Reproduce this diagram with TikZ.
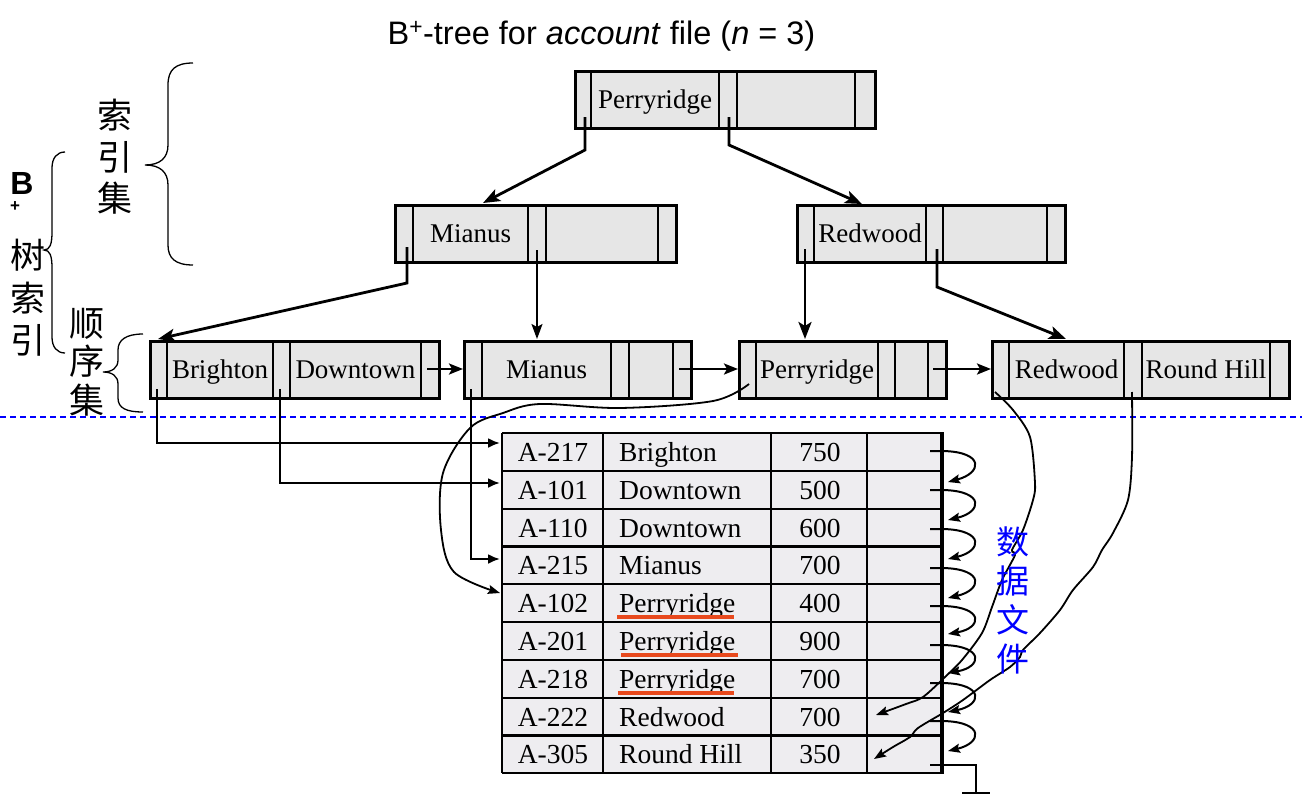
\documentclass[tikz,border=0pt]{standalone}
\usepackage{fontspec}
\setmainfont{Liberation Serif}
\newfontfamily\sansf{Liberation Sans}
\newfontfamily\cjk{Noto Sans CJK SC}
\usetikzlibrary{arrows.meta}
\definecolor{boxgray}{RGB}{230,230,230}
\definecolor{tblfill}{RGB}{238,237,240}
\definecolor{ulred}{RGB}{232,73,29}
\begin{document}
\begin{tikzpicture}[x=1pt,y=-1pt,
  tbox/.style={draw, line width=3pt, fill=boxgray, inner sep=0pt, anchor=north west, minimum height=57pt},
  divl/.style={line width=2.8pt},
  key/.style={font=\fontsize{27}{30}\selectfont, inner sep=0pt, anchor=base},
  cell/.style={font=\fontsize{27.5}{30}\selectfont, inner sep=0pt, anchor=base},
  tarrow/.style={line width=2.8pt, -{Stealth[length=17pt,width=13pt,inset=4pt]}},
  tarrowthin/.style={line width=1.8pt, -{Stealth[length=15pt,width=11pt,inset=3pt]}},
  larrow/.style={line width=2.4pt, -{Stealth[length=14pt,width=11pt,inset=3pt]}},
  parrow/.style={line width=2.2pt, -{Latex[length=12pt,width=10pt]}},
  curl/.style={line width=2pt, -{Stealth[length=12pt,width=9pt,inset=2pt]}},
  wig/.style={line width=1.8pt, -{Stealth[length=12pt,width=9pt,inset=2pt]}},
  brace/.style={line width=1.3pt},
  cjkl/.style={font=\cjk\fontsize{35}{41.5}\selectfont, inner sep=0pt, align=center},
  tline/.style={line width=2.2pt}
]
\useasboundingbox (0,0) rectangle (1302,798);
\fill[white] (0,0) rectangle (1302,798);

% title
\node[font=\sansf\fontsize{32.5}{36}\selectfont, inner sep=0pt, anchor=base] (title) at (601.5,44)
  {B\textsuperscript{+}-tree for \textit{account} file (\textit{n} = 3)};

% ---------- root ----------
\node[tbox, minimum width=300pt] (root) at (574,70) {};
\foreach \xx in {591,719,737,855} \draw[divl] (\xx,70) -- (\xx,127);
\node[key] (rootk) at (655,108) {Perryridge};
\coordinate (r0) at (585,117); \coordinate (r0b) at (585,150);
\coordinate (r1) at (729,117); \coordinate (r1b) at (729,145);

% ---------- level 2 ----------
\node[tbox, minimum width=281pt] (mia) at (394,204) {};
\foreach \xx in {413,528,546,658} \draw[divl] (\xx,204) -- (\xx,261);
\node[key] (miak) at (470.5,242.5) {Mianus};
\coordinate (m0) at (407,247); \coordinate (m0b) at (407,283);
\coordinate (m1) at (537,250);

\node[tbox, minimum width=268pt] (red) at (796,204) {};
\foreach \xx in {814,926,943,1047} \draw[divl] (\xx,204) -- (\xx,261);
\node[key] (redk) at (870,242.5) {Redwood};
\coordinate (w0) at (805,249);
\coordinate (w1) at (937,249); \coordinate (w1b) at (937,287);

\coordinate (miatop) at (483,203);
\coordinate (redtop) at (862,204);

% ---------- leaves ----------
\node[tbox, minimum width=289pt] (leafa) at (149,340) {};
\foreach \xx in {167,273,290,421} \draw[divl] (\xx,340) -- (\xx,397);
\node[key] (leafak1) at (220,378.5) {Brighton};
\node[key] (leafak2) at (355.5,378.5) {Downtown};

\node[tbox, minimum width=227pt] (leafb) at (463,340) {};
\foreach \xx in {482,611,629,673} \draw[divl] (\xx,340) -- (\xx,397);
\node[key] (leafbk) at (546.5,378.5) {Mianus};

\node[tbox, minimum width=207pt] (leafc) at (738,340) {};
\foreach \xx in {756,878,895,928} \draw[divl] (\xx,340) -- (\xx,397);
\node[key] (leafck) at (817,378.5) {Perryridge};

\node[tbox, minimum width=297pt] (leafd) at (991,340) {};
\foreach \xx in {1009,1124,1142,1270} \draw[divl] (\xx,340) -- (\xx,397);
\node[key] (leafdk1) at (1066.5,378.5) {Redwood};
\node[key] (leafdk2) at (1206,378.5) {Round Hill};

\coordinate (la0) at (157,389); \coordinate (la0b) at (157,443);
\coordinate (la1) at (280,389); \coordinate (la1b) at (280,483);
\coordinate (lb0) at (471,389); \coordinate (lb0b) at (471,559);
\coordinate (lc0) at (749,384);
\coordinate (ld0) at (995,392);
\coordinate (ld1) at (1132,392);
\coordinate (lanext) at (427,369); \coordinate (lbnext) at (679,369); \coordinate (lcnext) at (933,369);
\coordinate (lbleft) at (463,369); \coordinate (lcleft) at (738,369); \coordinate (ldleft) at (991,369);
\coordinate (leafatop) at (158,339);
\coordinate (leafbtop) at (537,339);
\coordinate (leafctop) at (805,339);
\coordinate (leafdtop) at (1066,339);

% tree arrows
\draw[tarrow] (r0) -- (r0b) -- (miatop);
\draw[tarrow] (r1) -- (r1b) -- (redtop);
\draw[tarrow] (m0) -- (m0b) -- (leafatop);
\draw[tarrowthin] (m1) -- (leafbtop);
\draw[tarrow] (w0) -- (leafctop);
\draw[tarrow] (w1) -- (w1b) -- (leafdtop);
\draw[larrow] (lanext) -- (lbleft);
\draw[larrow] (lbnext) -- (lcleft);
\draw[larrow] (lcnext) -- (ldleft);

% dashed separator
\draw[blue, line width=1.2pt, dash pattern=on 6pt off 4pt] (0,417) -- (1302,417);

% ---------- table ----------
\node[fill=tblfill, inner sep=0pt, anchor=north west, minimum width=440pt, minimum height=340pt] (tbl) at (502,433) {};
\foreach \yy in {433,470.8,508.6,546.4,584.2,622,659.8,697.6,735.4,773.2}
  \draw[tline] (502,\yy) -- (942,\yy);
\foreach \xx in {502,603,771,867} \draw[tline] (\xx,433) -- (\xx,773.2);
\draw[line width=3.2pt] (942,432) -- (942,774);

\foreach \i/\a/\b/\c in {0/A-217/Brighton/750,1/A-101/Downtown/500,2/A-110/Downtown/600,
  3/A-215/Mianus/700,4/A-102/Perryridge/400,5/A-201/Perryridge/900,6/A-218/Perryridge/700,
  7/A-222/Redwood/700,8/A-305/Round Hill/350}{
  \pgfmathsetmacro{\yb}{461.5+37.8*\i}
  \node[cell] (ca\i) at (553,\yb) {\a};
  \node[cell, anchor=base west] (cb\i) at (619,\yb) {\b};
  \node[cell] (cc\i) at (820,\yb) {\c};
}
\draw[ulred, line width=4pt] (617,617) -- (734,617);
\draw[ulred, line width=4pt] (621,655) -- (738,655);
\draw[ulred, line width=4pt] (618,693) -- (734,693);

% chain curls
\foreach \s/\t in {451/482,490/520,529/559,568/598,606/634,645/673,683/712,721/751}{
  \draw[curl] (930,\s) -- (943,\s) .. controls (985,\s+1) and (982,\s+22) .. (948,\t);
}
% ground
\coordinate (gnd) at (976,793);
\draw[line width=2.2pt] (930,765) -- (976,765) -- (gnd);
\draw[line width=2.2pt] (962,793) -- (990,793);

% pointers into data file
\coordinate (t1) at (500,443); \coordinate (t2) at (500,483); \coordinate (t4) at (500,559);
\coordinate (t5) at (500,593); \coordinate (t8) at (876,715); \coordinate (t9) at (874,759);
\draw[parrow] (la0) -- (la0b) -- (t1);
\draw[parrow] (la1) -- (la1b) -- (t2);
\draw[parrow] (lb0) -- (lb0b) -- (t4);
\draw[wig] plot[smooth, tension=0.55] coordinates {(lc0) (713,401) (620,408) (540,404) (503,413) (470,428) (443,473) (441,530) (454,572) (t5)};
\draw[wig] plot[smooth, tension=0.5] coordinates {(ld0) (1013,410) (1030,437) (1035,483) (1033,500) (1023,530) (1012,550) (1015,555) (1002,580) (992,607) (982,633) (962,660) (945,677) (923,697) (906,704) (t8)};
\draw[wig] plot[smooth, tension=0.5] coordinates {(ld1) (1132,457) (1128,500) (1113,533) (1102,550) (1093,567) (1073,590) (1060,610) (1040,633) (1023,650) (1020,657) (1010,667) (990,680) (963,700) (943,713) (918,728) (910,737) (893,747) (t9)};

% ---------- left labels ----------
\draw[brace] (193,63) .. controls (175,63) and (168,70) .. (168,85) -- (168,145)
  .. controls (168,158) and (160,165) .. (145,165) .. controls (160,165) and (168,172) .. (168,185)
  -- (168,245) .. controls (168,258) and (175,265) .. (193,265);
\node[cjkl] (suoyinji) at (115,157) {索\\引\\集};

\draw[brace] (65,152) .. controls (57,152) and (52,158) .. (52,168) -- (52,232)
  .. controls (52,244) and (50,250) .. (44,250) .. controls (50,250) and (52,256) .. (52,268)
  -- (52,337) .. controls (52,347) and (57,353) .. (65,353);
\node[font=\sansf\bfseries\fontsize{32}{34}\selectfont, inner sep=0pt] (bb) at (22,183) {B};
\node[font=\sansf\bfseries\fontsize{17}{18}\selectfont, inner sep=0pt] (bplus) at (15,207) {+};
\node[cjkl, font=\cjk\fontsize{35}{42.5}\selectfont] (shusuoyin) at (28,298) {树\\索\\引};

\draw[brace] (143,334) .. controls (126,334) and (118,340) .. (118,350) -- (118,360)
  .. controls (118,368) and (112,372) .. (103,372) .. controls (112,372) and (118,376) .. (118,384)
  -- (118,398) .. controls (118,408) and (126,412) .. (143,412);
\node[cjkl, font=\cjk\fontsize{35}{38.5}\selectfont] (shunxuji) at (87,362) {顺\\序\\集};

\node[cjkl, text=blue, font=\cjk\fontsize{33}{39}\selectfont] (shuju) at (1013,600.5) {数\\据\\文\\件};
\end{tikzpicture}
\end{document}
